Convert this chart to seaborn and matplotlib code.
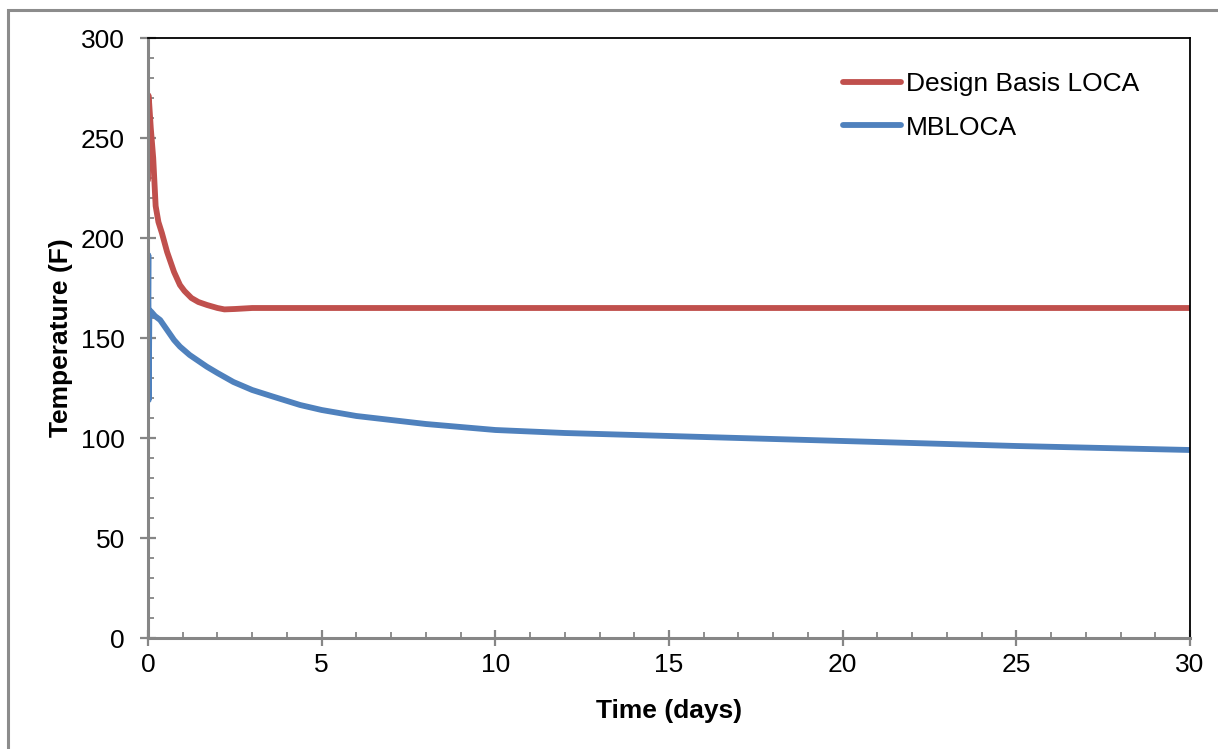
import numpy as np
import pandas as pd
import matplotlib
matplotlib.use("Agg")
import matplotlib.pyplot as plt
from matplotlib.patches import Rectangle
from matplotlib.ticker import MultipleLocator
import seaborn as sns

# Containment temperature histories (time in days, temperature in F)
dbloca_time = [0.0, 0.005, 0.02, 0.08, 0.15, 0.22, 0.3, 0.4, 0.55, 0.75, 0.92, 1.05,
               1.25, 1.45, 1.7, 2.0, 2.2, 2.5, 3.0, 5.0, 10.0, 15.0, 20.0, 25.0, 30.0]
dbloca_temp = [229, 271.5, 271, 255, 240, 216, 208, 202.5, 193, 183, 176.5, 173.5,
               170, 168, 166.5, 165, 164.3, 164.5, 165, 165, 165, 165, 165, 165, 165]

mbloca_time = [0.0, 0.01, 0.02, 0.04, 0.1, 0.2, 0.35, 0.55, 0.75, 0.92, 1.2,
               1.69, 2.0, 2.46, 3.0, 3.6, 4.38, 5.0, 6.0, 8.0, 10.0, 12.0,
               15.0, 20.0, 25.0, 30.0]
mbloca_temp = [165, 191.5, 119, 164, 163, 161, 159, 154, 149, 145.7, 141.5,
               135.7, 132.5, 128, 124, 120.7, 116.5, 114, 111, 107, 104, 102.5,
               101, 98.5, 96, 94]

series_names = ["Design Basis LOCA", "MBLOCA"]
series_colors = ["#C0504D", "#4F81BD"]

df = pd.concat([
    pd.DataFrame({"Time": dbloca_time, "Temp": dbloca_temp, "Case": series_names[0]}),
    pd.DataFrame({"Time": mbloca_time, "Temp": mbloca_temp, "Case": series_names[1]}),
], ignore_index=True)

sns.set_theme(style="white")
plt.rcParams["font.family"] = ["Liberation Sans", "DejaVu Sans"]
plt.rcParams["text.color"] = "black"
plt.rcParams["axes.labelcolor"] = "black"

W, H = 1218, 749
fig = plt.figure(figsize=(W / 100, H / 100), dpi=100)
fig.patch.set_facecolor("white")
ax = fig.add_axes([148 / W, 1 - 638 / H, (1190 - 148) / W, (638 - 38) / H])

lw = 4.2
sns.lineplot(data=df, x="Time", y="Temp", hue="Case", palette=series_colors,
             linewidth=lw, sort=False, estimator=None, ax=ax, legend=False)
for ln in ax.lines:
    ln.set_solid_capstyle("round")
    ln.set_solid_joinstyle("round")

ax.set_xlim(0, 30)
ax.set_ylim(0, 300)
ax.xaxis.set_major_locator(MultipleLocator(5))
ax.xaxis.set_minor_locator(MultipleLocator(1))
ax.yaxis.set_major_locator(MultipleLocator(50))
ax.yaxis.set_minor_locator(MultipleLocator(10))

fs = 19
grey = "#868686"
ax.tick_params(which="major", direction="inout", length=11, width=1.6, color=grey,
               labelsize=fs, labelcolor="black")
ax.tick_params(axis="x", which="major", pad=5)
ax.tick_params(axis="y", which="major", pad=11)
ax.tick_params(which="minor", direction="in", length=4, width=1.3, color=grey)
ax.tick_params(axis="x", which="both", bottom=True, top=False)
ax.tick_params(axis="y", which="both", left=True, right=False)

for side in ("left", "bottom"):
    ax.spines[side].set_color(grey)
    ax.spines[side].set_linewidth(2.2)
for side in ("top", "right"):
    ax.spines[side].set_color("black")
    ax.spines[side].set_linewidth(1.3)
    ax.spines[side].set_visible(True)

ax.set_xlabel("Time (days)", fontsize=fs, fontweight="bold", labelpad=16, color="black")
ax.set_ylabel("Temperature (F)", fontsize=fs, fontweight="bold", labelpad=6, color="black")

handles = [plt.Line2D([], [], color=c, linewidth=lw, solid_capstyle="round")
           for c in series_colors]
fig.legend(handles, series_names, loc="upper left",
           bbox_to_anchor=(843 / W, 1 - 72 / H), frameon=False, fontsize=fs,
           handlelength=2.2, handletextpad=0.2, labelspacing=0.74,
           borderpad=0, borderaxespad=0)

# Outer chart border
fig.patches.append(Rectangle((8 / W, -0.1), 1.2, (1 - 10 / H) + 0.1,
                             transform=fig.transFigure, fill=False,
                             edgecolor="#8C8C8C", linewidth=2.2, zorder=0))

fig.savefig("out.png", dpi=100, facecolor="white")
